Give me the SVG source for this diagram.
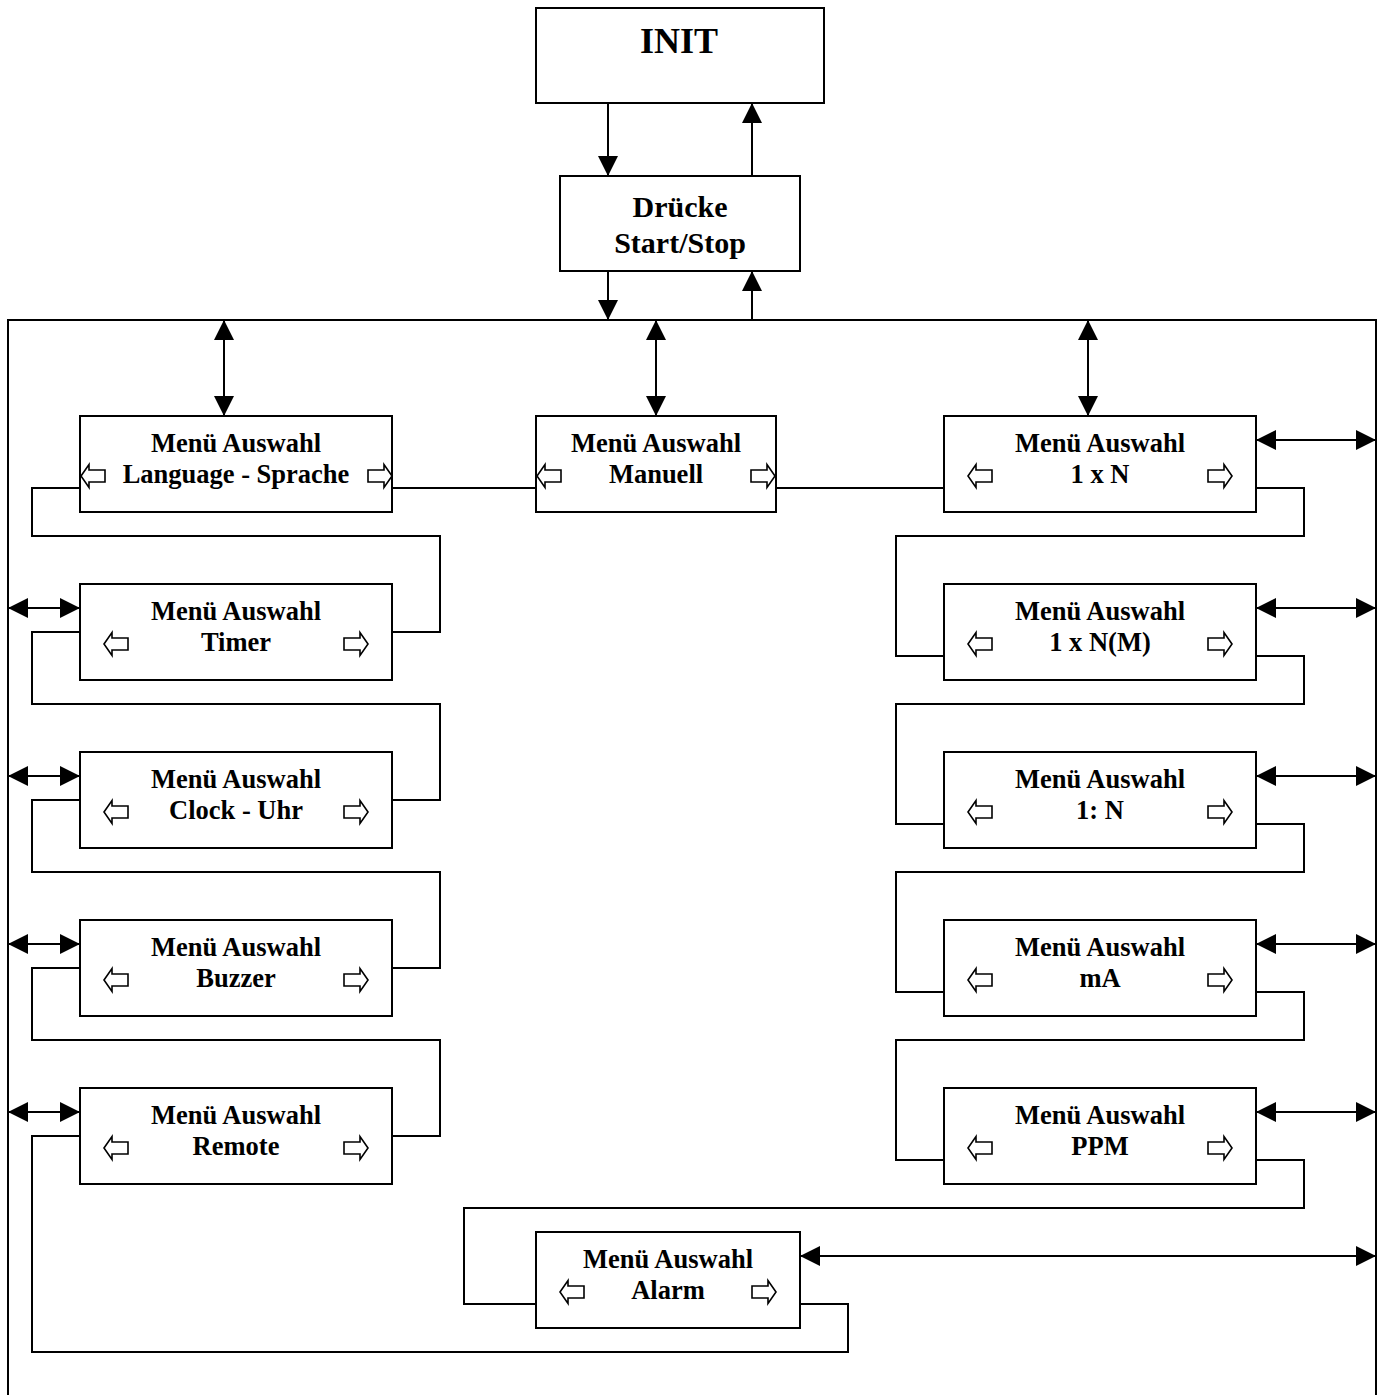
<svg xmlns="http://www.w3.org/2000/svg" width="1383" height="1395" viewBox="0 0 1383 1395">
<style>
.box{fill:#fff;stroke:#000;stroke-width:2}
.ln{fill:none;stroke:#000;stroke-width:2}
.ar{fill:none;stroke:#000;stroke-width:2;marker-end:url(#ah)}
.da{fill:none;stroke:#000;stroke-width:2;marker-start:url(#ah);marker-end:url(#ah)}
.t{font-family:"Liberation Serif","Times New Roman",serif;font-weight:bold;font-size:26.5px;text-anchor:middle;fill:#000}
.hl{fill:#fff;stroke:#000;stroke-width:1.6}
</style>
<defs>
<marker id="ah" markerUnits="userSpaceOnUse" markerWidth="20" markerHeight="20" refX="20" refY="10" orient="auto-start-reverse"><path d="M0,0 L20,10 L0,20 Z" fill="#000"/></marker>
<path id="la" class="hl" d="M0,12 L8,0.5 L8,6 L24,6 L24,18 L8,18 L8,23.5 Z"/>
<path id="ra" class="hl" d="M24,12 L16,0.5 L16,6 L0,6 L0,18 L16,18 L16,23.5 Z"/>
</defs>
<g id="connectors">
<path class="ln" d="M8,1395 L8,320 L1376,320 L1376,1395"/>
<path class="ar" d="M608,103 L608,176"/>
<path class="ar" d="M752,176 L752,103"/>
<path class="ar" d="M608,271 L608,320"/>
<path class="ar" d="M752,320 L752,271"/>
<path class="da" d="M224,320 L224,416"/>
<path class="da" d="M656,320 L656,416"/>
<path class="da" d="M1088,320 L1088,416"/>
<path class="da" d="M8,608 L80,608"/>
<path class="da" d="M8,776 L80,776"/>
<path class="da" d="M8,944 L80,944"/>
<path class="da" d="M8,1112 L80,1112"/>
<path class="da" d="M1256,440 L1376,440"/>
<path class="da" d="M1256,608 L1376,608"/>
<path class="da" d="M1256,776 L1376,776"/>
<path class="da" d="M1256,944 L1376,944"/>
<path class="da" d="M1256,1112 L1376,1112"/>
<path class="da" d="M800,1256 L1376,1256"/>
<path class="ln" d="M392,488 L536,488"/>
<path class="ln" d="M776,488 L944,488"/>
<path class="ln" d="M80,488 L32,488 L32,536 L440,536 L440,632 L392,632"/>
<path class="ln" d="M80,632 L32,632 L32,704 L440,704 L440,800 L392,800"/>
<path class="ln" d="M80,800 L32,800 L32,872 L440,872 L440,968 L392,968"/>
<path class="ln" d="M80,968 L32,968 L32,1040 L440,1040 L440,1136 L392,1136"/>
<path class="ln" d="M80,1136 L32,1136 L32,1352 L848,1352 L848,1304 L800,1304"/>
<path class="ln" d="M536,1304 L464,1304 L464,1208 L1304,1208 L1304,1160 L1256,1160"/>
<path class="ln" d="M944,1160 L896,1160 L896,1040 L1304,1040 L1304,992 L1256,992"/>
<path class="ln" d="M944,992 L896,992 L896,872 L1304,872 L1304,824 L1256,824"/>
<path class="ln" d="M944,824 L896,824 L896,704 L1304,704 L1304,656 L1256,656"/>
<path class="ln" d="M944,656 L896,656 L896,536 L1304,536 L1304,488 L1256,488"/>
</g>
<g id="init"><rect class="box" x="536" y="8" width="288" height="95"/><text class="t" x="679" y="53" style="font-size:36px">INIT</text></g>
<g id="druecke"><rect class="box" x="560" y="176" width="240" height="95"/><text class="t" x="680" y="217" style="font-size:30px">Drücke</text><text class="t" x="680" y="253" style="font-size:30px">Start/Stop</text></g>
<g id="language"><rect class="box" x="80" y="416" width="312" height="96"/><text class="t" x="236" y="452">Menü Auswahl</text><text class="t" x="236" y="483">Language - Sprache</text><use href="#la" x="81" y="464"/><use href="#ra" x="368" y="464"/></g>
<g id="manuell"><rect class="box" x="536" y="416" width="240" height="96"/><text class="t" x="656" y="452">Menü Auswahl</text><text class="t" x="656" y="483">Manuell</text><use href="#la" x="537" y="464"/><use href="#ra" x="751" y="464"/></g>
<g id="n1xN"><rect class="box" x="944" y="416" width="312" height="96"/><text class="t" x="1100" y="452">Menü Auswahl</text><text class="t" x="1100" y="483">1 x N</text><use href="#la" x="968" y="464"/><use href="#ra" x="1208" y="464"/></g>
<g id="timer"><rect class="box" x="80" y="584" width="312" height="96"/><text class="t" x="236" y="620">Menü Auswahl</text><text class="t" x="236" y="651">Timer</text><use href="#la" x="104" y="632"/><use href="#ra" x="344" y="632"/></g>
<g id="clock"><rect class="box" x="80" y="752" width="312" height="96"/><text class="t" x="236" y="788">Menü Auswahl</text><text class="t" x="236" y="819">Clock - Uhr</text><use href="#la" x="104" y="800"/><use href="#ra" x="344" y="800"/></g>
<g id="buzzer"><rect class="box" x="80" y="920" width="312" height="96"/><text class="t" x="236" y="956">Menü Auswahl</text><text class="t" x="236" y="987">Buzzer</text><use href="#la" x="104" y="968"/><use href="#ra" x="344" y="968"/></g>
<g id="remote"><rect class="box" x="80" y="1088" width="312" height="96"/><text class="t" x="236" y="1124">Menü Auswahl</text><text class="t" x="236" y="1155">Remote</text><use href="#la" x="104" y="1136"/><use href="#ra" x="344" y="1136"/></g>
<g id="n1xNM"><rect class="box" x="944" y="584" width="312" height="96"/><text class="t" x="1100" y="620">Menü Auswahl</text><text class="t" x="1100" y="651">1 x N(M)</text><use href="#la" x="968" y="632"/><use href="#ra" x="1208" y="632"/></g>
<g id="n1N"><rect class="box" x="944" y="752" width="312" height="96"/><text class="t" x="1100" y="788">Menü Auswahl</text><text class="t" x="1100" y="819">1: N</text><use href="#la" x="968" y="800"/><use href="#ra" x="1208" y="800"/></g>
<g id="mA"><rect class="box" x="944" y="920" width="312" height="96"/><text class="t" x="1100" y="956">Menü Auswahl</text><text class="t" x="1100" y="987">mA</text><use href="#la" x="968" y="968"/><use href="#ra" x="1208" y="968"/></g>
<g id="ppm"><rect class="box" x="944" y="1088" width="312" height="96"/><text class="t" x="1100" y="1124">Menü Auswahl</text><text class="t" x="1100" y="1155">PPM</text><use href="#la" x="968" y="1136"/><use href="#ra" x="1208" y="1136"/></g>
<g id="alarm"><rect class="box" x="536" y="1232" width="264" height="96"/><text class="t" x="668" y="1268">Menü Auswahl</text><text class="t" x="668" y="1299">Alarm</text><use href="#la" x="560" y="1280"/><use href="#ra" x="752" y="1280"/></g>
</svg>
